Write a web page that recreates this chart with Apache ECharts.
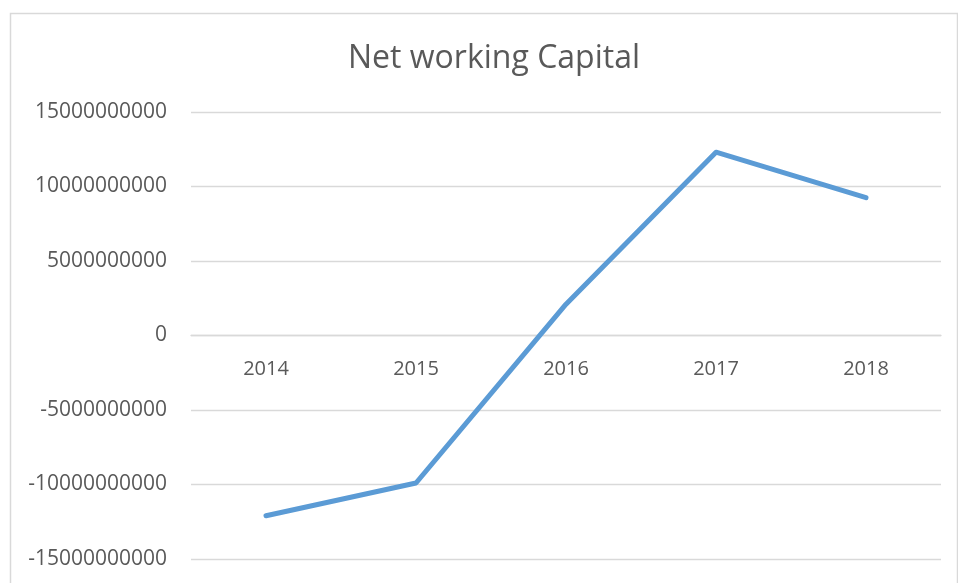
<!DOCTYPE html>
<html>
<head>
<meta charset="utf-8">
<script src="https://cdn.jsdelivr.net/npm/echarts@6/dist/echarts.min.js"></script>
<style>
html,body{margin:0;padding:0;background:#fff;}
#chart{width:958px;height:583px;}
</style>
</head>
<body>
<div id="chart"></div>
<script>
var titleText = 'Net working Capital';
var categories = ['2014', '2015', '2016', '2017', '2018'];
var netWorkingCapital = [-12100000000, -9900000000, 2100000000, 12300000000, 9250000000];
var yMin = -15000000000, yMax = 15000000000, yStep = 5000000000;

var chart = echarts.init(document.getElementById('chart'));
chart.setOption({
  animation: false,
  backgroundColor: '#fff',
  graphic: [{
    type: 'rect',
    shape: {x: 10.5, y: 13.5, width: 947, height: 600},
    style: {fill: 'none', stroke: '#d9d9d9', lineWidth: 1.5},
    silent: true
  }],
  title: {
    text: titleText,
    left: 489, top: 38, textAlign: 'center',
    textStyle: {fontFamily: 'Open Sans', fontSize: 32, fontWeight: 'normal', color: '#595959'}
  },
  grid: {left: 191, right: 17, top: 112, bottom: 24, containLabel: false, outerBoundsMode: 'none'},
  xAxis: {
    type: 'category',
    data: categories,
    boundaryGap: true,
    offset: 0,
    axisLine: {show: true, onZero: false, lineStyle: {color: '#d9d9d9', width: 1.3}},
    axisTick: {show: false},
    axisLabel: {margin: 24, fontFamily: 'Open Sans', fontSize: 20, color: '#595959'}
  },
  yAxis: {
    type: 'value',
    min: yMin, max: yMax, interval: yStep,
    axisLine: {show: false, onZero: false},
    axisTick: {show: false},
    splitLine: {lineStyle: {color: '#d9d9d9', width: 1.3}},
    axisLabel: {
      margin: 24, fontFamily: 'Open Sans', fontSize: 21, color: '#595959',
      formatter: function (v) { return String(v); }
    }
  },
  series: [{
    type: 'line',
    data: netWorkingCapital,
    showSymbol: false,
    symbol: 'none',
    lineStyle: {color: '#5b9bd5', width: 5, cap: 'round', join: 'round'}
  }]
});
// place the category axis on the zero line of the value axis
var zeroPx = chart.convertToPixel({yAxisIndex: 0}, 0);
var bottomPx = chart.convertToPixel({yAxisIndex: 0}, yMin);
chart.setOption({xAxis: {offset: -(bottomPx - zeroPx)}});
</script>
</body>
</html>
